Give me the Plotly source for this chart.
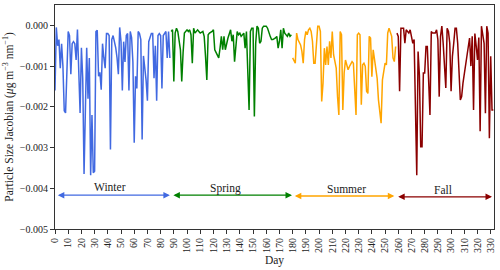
import plotly.graph_objects as go

SCALE = 1e-3  # values below are in units of 1e-3

winter_days = list(range(0, 88))
winter_vals = [-1.6, -0.05, -0.5, -0.35, -1.05, -0.45, -1.0, -2.1, -2.15, -1.2,
               -0.15, -0.25, -1.2, -0.45, -0.4, -0.45, -0.85, -0.1, -0.9, -2.15,
               -0.55, -1.3, -3.65, -1.5, -0.55, -1.8, -0.8, -3.68, -2.2, -3.62,
               -3.58, -0.15, -0.12, -1.25, -1.15, -1.58, -0.45, -0.8, -1.05, -0.2,
               -0.2, -0.25, -3.05, -0.35, -0.25, -0.4, -0.55, -0.8, -1.2, -0.05,
               -0.4, -1.6, -0.4, -0.9, -0.25, -0.2, -1.6, -0.15, -0.3, -0.9,
               -2.88, -1.25, -1.55, -0.15, -0.2, -0.35, -2.8, -0.75, -1.0, -1.35,
               -1.85, -0.4, -0.3, -0.2, -0.2, -1.3, -0.5, -1.85, -0.25, -0.2,
               -0.25, -1.55, -0.25, -0.2, -0.15, -0.8, -0.15, -0.8]

spring_days = [88, 89, 90, 91, 92, 93, 95, 96, 97, 98, 100, 101, 102, 103, 104, 105, 106,
               108, 109, 110, 112, 113, 114, 115, 116, 117, 119, 120, 121, 122, 124, 125,
               126, 127, 128, 129, 130, 131, 133, 134, 135, 136, 138, 139, 140, 141, 143,
               144, 145, 147, 148, 149, 150, 151, 152, 153, 154, 155, 156, 157, 158, 160,
               161, 162, 163, 164, 165, 167, 168, 169, 170, 171, 172, 173, 174, 176, 177,
               178, 179]
spring_vals = [-0.15, -0.11, -1.38, -0.19, -0.07, -0.15, -0.60, -1.38, -0.68, -0.19,
               -0.11, -0.15, -0.11, -0.23, -0.93, -0.07, -0.19, -0.11, -0.15, -0.19,
               -0.15, -0.27, -0.76, -1.34, -0.23, -0.19, -0.15, -0.11, -0.60, -0.68,
               -0.80, -0.56, -0.27, -0.60, -0.27, -0.60, -0.44, -0.31, -0.11, -0.39,
               -0.23, -0.89, -0.15, -0.23, -0.19, -0.27, -0.19, -0.56, -0.15, -2.08,
               -0.15, -0.07, -0.07, -2.24, -0.44, -0.02, -0.07, -0.44, -0.39, -0.07,
               -0.02, -0.02, -0.07, -0.19, -0.27, -0.35, -0.35, -0.31, -0.27, -0.56,
               -0.39, -0.11, -0.56, -0.07, -0.19, -0.27, -0.19, -0.27, -0.23]

summer_days = [180, 181, 182, 183, 184, 186, 187, 188, 189, 190, 191, 192, 193, 194, 195,
               196, 197, 199, 200, 201, 202, 203, 204, 205, 206, 207, 208, 209, 210, 211,
               212, 213, 214, 215, 216, 217, 218, 219, 220, 221, 222, 223, 225, 226, 227,
               228, 229, 230, 231, 232, 233, 234, 235, 236, 237, 238, 239, 240, 241, 242,
               243, 244, 245, 247, 248, 249, 250, 251, 252, 253, 254, 255, 256, 257, 258]
summer_vals = [-0.80, -0.89, -0.93, -0.19, -0.35, -0.48, -0.64, -0.93, -0.35, -0.15,
               -0.23, -0.11, -0.07, -0.15, -0.39, -0.93, -0.93, -0.02, -0.02, -0.15,
               -1.87, -1.42, -0.56, -0.97, -0.52, -0.97, -0.39, -0.80, -0.15, -0.72,
               -0.93, -1.05, -1.75, -2.20, -0.15, -0.23, -2.08, -1.17, -0.85, -0.97,
               -1.09, -1.01, -0.89, -0.93, -1.58, -2.20, -0.23, -0.19, -0.23, -1.95,
               -0.97, -0.93, -1.01, -1.62, -1.67, -0.27, -0.31, -1.26, -0.60, -0.80,
               -1.09, -1.30, -1.83, -2.40, -1.34, -1.17, -0.93, -0.97, -0.19, -0.07,
               -0.15, -0.27, -0.80, -0.89, -0.52]

fall_days = [259, 260, 261, 262, 264, 265, 266, 268, 269, 270, 271, 272, 274, 275, 276,
             277, 278, 279, 280, 281, 282, 284, 285, 286, 288, 289, 290, 291, 292, 293,
             294, 296, 297, 298, 299, 300, 301, 302, 303, 304, 305, 307, 308, 309, 310,
             311, 312, 313, 314, 315, 316, 317, 318, 319, 320, 321, 322, 323, 324, 325,
             326, 327, 328, 329, 330, 331, 332]
fall_vals = [-0.19, -0.27, -1.62, -0.07, -0.07, -0.44, -0.11, -0.19, -0.11, -0.31,
             -0.44, -0.35, -3.68, -0.64, -1.22, -2.98, -2.98, -1.17, -1.17, -0.52,
             -0.52, -2.20, -0.15, -0.19, -0.19, -0.11, -0.35, -1.75, -0.27, -0.02,
             -0.44, -1.54, -0.07, -0.15, -0.44, -1.62, -0.76, -0.44, -0.07, -0.07,
             -0.44, -1.83, -1.75, -1.42, -1.20, -1.00, -0.68, -0.56, -0.31, -1.00,
             -0.27, -2.08, -0.20, -0.50, -0.85, -0.30, -2.60, -0.02, -0.19, -0.44,
             -2.16, -0.02, -0.19, -2.77, -0.76, -2.08, -2.08]

season_names = ["Winter", "Spring", "Summer", "Fall"]
season_colors = ["#4169E1", "#008000", "#FFA500", "#8B0000"]
season_start = [1, 88.5, 180.5, 258.8]
season_end = [87, 179.5, 257, 331]
arrow_y = [-4.17, -4.17, -4.19, -4.21]
label_x = [41.7, 129.5, 221, 294]
label_y = [-3.98, -4.0, -4.02, -4.04]

FONT = "Liberation Serif"

series = [(winter_days, winter_vals), (spring_days, spring_vals),
          (summer_days, summer_vals), (fall_days, fall_vals)]

fig = go.Figure()
for (d, v), name, col in zip(series, season_names, season_colors):
    fig.add_trace(go.Scatter(x=d, y=[val * SCALE for val in v], mode="lines",
                             name=name, line=dict(color=col, width=1.5),
                             showlegend=False))

for i, name in enumerate(season_names):
    y = arrow_y[i] * SCALE
    fig.add_annotation(x=season_end[i], y=y, ax=season_start[i], ay=y,
                       xref="x", yref="y", axref="x", ayref="y", text="",
                       showarrow=True, arrowside="end+start", arrowhead=2,
                       arrowsize=1, arrowwidth=1.3, arrowcolor=season_colors[i])
    fig.add_annotation(x=label_x[i], y=label_y[i] * SCALE, text=name,
                       showarrow=False, xref="x", yref="y",
                       font=dict(family=FONT, size=11.5, color="#222"))

fig.update_layout(
    width=500, height=270,
    margin=dict(l=55, r=6, t=5, b=41, autoexpand=False),
    plot_bgcolor="white", paper_bgcolor="white",
    font=dict(family=FONT, size=10, color="#222"),
)
fig.update_xaxes(
    automargin=False,
    range=[0, 332.5], tickmode="linear", tick0=0, dtick=10, tickangle=-90,
    ticks="outside", ticklen=4, tickcolor="#333", showgrid=False, zeroline=False,
    showline=True, linecolor="#333", linewidth=1, mirror=True,
    title=dict(text="Day", font=dict(family=FONT, size=11.5), standoff=3),
    tickfont=dict(family=FONT, size=10),
)
fig.update_yaxes(
    automargin=False,
    range=[-0.005, 0.0005], tickmode="linear", tick0=0, dtick=0.001, tickformat=".3f",
    ticks="outside", ticklen=4, tickcolor="#333", showgrid=False, zeroline=False,
    showline=True, linecolor="#333", linewidth=1, mirror=True,
    title=dict(text="Particle Size Jacobian (<i>μ</i>g m<sup>−3</sup> nm<sup>−1</sup>)",
               font=dict(family=FONT, size=11.5), standoff=3),
    tickfont=dict(family=FONT, size=10),
)

fig.write_html("out.html", config={"displayModeBar": False},
               post_script="document.body.style.margin='0';document.body.style.overflow='hidden';")
